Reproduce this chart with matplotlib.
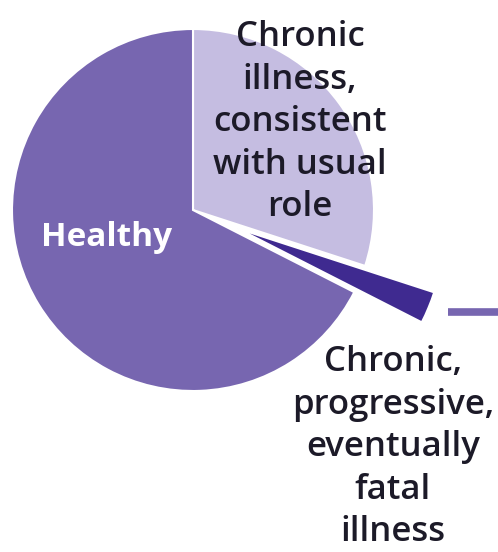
import matplotlib.pyplot as plt

# share of people in each course of illness
categories = ["Chronic illness,\nconsistent\nwith usual role", "Chronic, progressive,\neventually fatal illness", "Healthy"]
shares = [30, 2.5, 67.5]
colors = ["#c5bde1", "#3f2a90", "#7766b0"]

fig = plt.figure(figsize=(4.98, 5.52), dpi=100)
ax = fig.add_axes([0, 0, 1, 1])

# work in pixel units, y pointing up
cx, cy, r = 193, 552 - 210, 181
wedges, _ = ax.pie(shares, colors=colors, explode=[0, 48, 0], startangle=90,
                   counterclock=False, center=(cx, cy), radius=r,
                   wedgeprops=dict(edgecolor="white", linewidth=1.5))
# the fatal-illness slice sticks out past the rest
wedges[1].set_radius(207)

ax.set_xlim(0, 498)
ax.set_ylim(0, 552)
ax.set_aspect("equal")
ax.axis("off")

# leader line towards the fatal-illness label
ax.plot([448, 498], [552 - 312, 552 - 312], color="#7766b0", lw=5.5, solid_capstyle="butt")

font = "Open Sans"
ax.text(300, 552 - 20, "Chronic\nillness,\nconsistent\nwith usual\nrole", ha="center", va="top",
        fontsize=25, family=font, weight=600, color="#1c1a28", linespacing=1.33)
ax.text(107, 552 - 238, "Healthy", ha="center", va="center",
        fontsize=24, family=font, weight="bold", color="white")
ax.text(393, 552 - 345, "Chronic,\nprogressive,\neventually\nfatal\nillness", ha="center", va="top",
        fontsize=25, family=font, weight=600, color="#1c1a28", linespacing=1.33)

fig.savefig("out.png", dpi=100)
